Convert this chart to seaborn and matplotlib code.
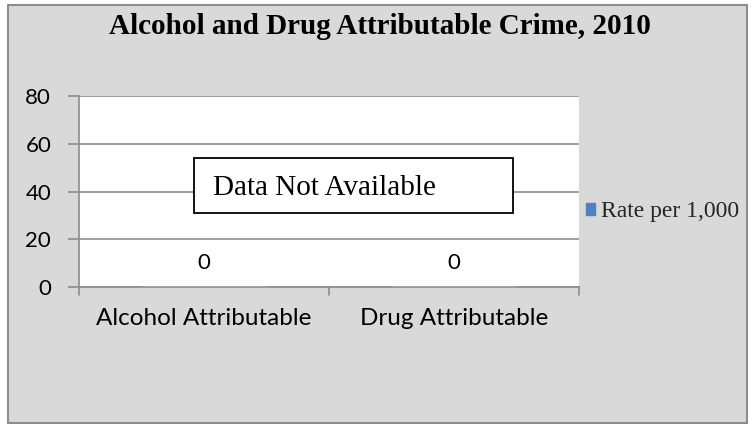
import matplotlib
matplotlib.use("Agg")
import matplotlib.pyplot as plt
from matplotlib.patches import Rectangle
import seaborn as sns
import pandas as pd

categories = ["Alcohol Attributable", "Drug Attributable"]
rates = [0, 0]
series_name = "Rate per 1,000"
y_ticks = [0, 20, 40, 60, 80]
title = "Alcohol and Drug Attributable Crime, 2010"
note = "Data Not Available"

df = pd.DataFrame({"category": categories, "rate": rates})

sns.set_theme(style="white")
W, H = 754, 424
fig = plt.figure(figsize=(W / 100, H / 100), dpi=100)
fig.patch.set_facecolor("white")

# chart-area frame
fig.patches.append(Rectangle((8 / W, 1 / H), 739 / W, 418 / H, transform=fig.transFigure,
                             facecolor="#d9d9d9", edgecolor="#8c8c8c", linewidth=1.5,
                             zorder=-5))

ax = fig.add_axes([79 / W, (H - 287) / H, 500 / W, 191 / H])
ax.set_zorder(1)
ax.set_facecolor("white")

bar_color = "#4f81bd"
sns.barplot(data=df, x="category", y="rate", color=bar_color, ax=ax, width=0.5, zorder=3)

ax.set_ylim(0, 80)
ax.set_yticks(y_ticks)
ax.set_xlim(-0.5, 1.5)
ax.yaxis.grid(True, color="#8c8c8c", linewidth=1.2, zorder=1)
ax.xaxis.grid(False)
for side in ["top", "right"]:
    ax.spines[side].set_visible(False)
for side in ["left", "bottom"]:
    ax.spines[side].set_color("#8c8c8c")
    ax.spines[side].set_linewidth(1.2)

ax.set_xlabel("")
ax.set_ylabel("")
ax.tick_params(axis="y", left=True, length=8, width=1.2, color="#8c8c8c",
               labelsize=16, pad=12, labelcolor="black")
ax.tick_params(axis="x", bottom=False, labelsize=17.5, pad=9, labelcolor="black")
for lab in ax.get_yticklabels() + ax.get_xticklabels():
    lab.set_family("Lato")

# category separators below the baseline
for xs in [-0.5, 0.5, 1.5]:
    ax.plot([xs, xs], [0, -3.4], color="#8c8c8c", linewidth=1.2, clip_on=False, zorder=4)

for c in ax.containers:
    ax.bar_label(c, labels=[f"{v:g}" for v in rates], padding=10,
                 fontsize=16, family="Lato", color="black")

fig.text(380 / W, (H - 27) / H, title, ha="center", va="center",
         fontsize=21, fontweight="bold", family="Liberation Serif", color="black")

# notice box with left-aligned text
ax.add_patch(Rectangle((-0.04, 31.0), 1.276, 23.0, facecolor="white", edgecolor="black",
                       linewidth=1.3, zorder=6))
ax.text(0.036, 41.3, note, ha="left", va="center", fontsize=21,
        family="Liberation Serif", color="black", zorder=7)

leg = fig.legend(handles=[Rectangle((0, 0), 1, 1, color=bar_color)], labels=[series_name],
                 loc="center left", bbox_to_anchor=(569 / W, (H - 212) / H), frameon=False,
                 prop={"family": "Liberation Serif", "size": 17}, handlelength=0.42,
                 handleheight=0.42, handletextpad=0.25, borderpad=0.2)

fig.savefig("out.png", dpi=100)
